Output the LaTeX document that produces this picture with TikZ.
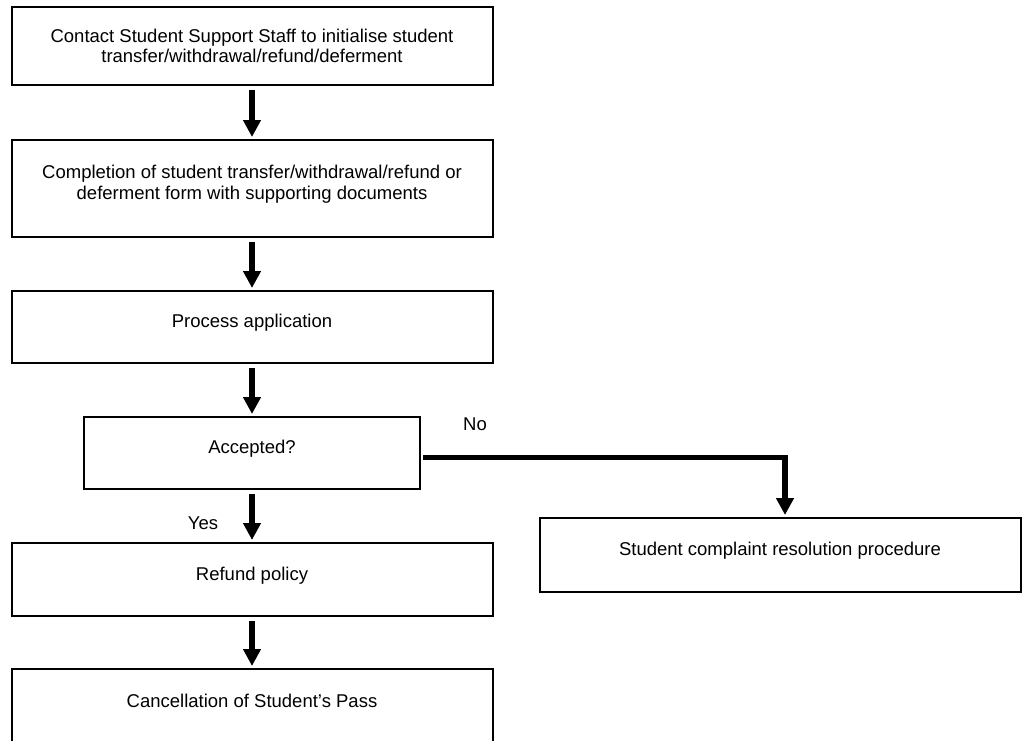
\documentclass[tikz,border=0pt]{standalone}
\usepackage{fontspec}
\setmainfont{Liberation Sans}
\usetikzlibrary{arrows.meta}
\usetikzlibrary{positioning}

\begin{document}
\begin{tikzpicture}[x=1pt,y=-1pt,>={Triangle[length=17pt,width=17pt]},
    font=\fontsize{18.5pt}{20.7pt}\selectfont,
    flowbox/.style={draw,line width=2pt,minimum width=481pt,align=center,inner sep=0pt},
    lift/.style={execute at end node={\rule[-12pt]{0pt}{0pt}}},
    flow/.style={->,line width=5.5pt,shorten <=4pt,shorten >=2pt}]
    \useasboundingbox (0,0) rectangle (1025,740);
    \clip (0,0) rectangle (1025,740);

    \node[flowbox,minimum height=78pt] (contact) at (252,46) {Contact Student Support Staff to initialise student\\transfer/withdrawal/refund/deferment};
    \node[flowbox,lift,minimum height=97pt] (form) at (252,188.5) {Completion of student transfer/withdrawal/refund or\\deferment form with supporting documents};
    \node[flowbox,lift,minimum height=72pt] (process) at (252,327) {Process application};
    \node[flowbox,lift,minimum height=72pt,minimum width=336pt] (accepted) at (252,453) {Accepted?};
    \node[flowbox,lift,minimum height=73pt] (refund) at (252,579.5) {Refund policy};
    \node[flowbox,lift,minimum height=76pt] (cancel) at (252,707) {Cancellation of Student’s Pass};
    \node[flowbox,lift,minimum height=74pt] (complaint) at (780,555) {Student complaint resolution procedure};
    \node (yes) at (203,523) {Yes};
    \node (no) at (475,424) {No};

    \draw[flow] (contact) -- (form);
    \draw[flow] (form) -- (process);
    \draw[flow] (process) -- (accepted);
    \draw[flow] (accepted) -- (refund);
    \draw[flow] (refund) -- (cancel);
    \draw[flow,shorten <=2pt] ([yshift=-4.5pt]accepted.east) -| ([xshift=5pt]complaint.north);
\end{tikzpicture}
\end{document}
